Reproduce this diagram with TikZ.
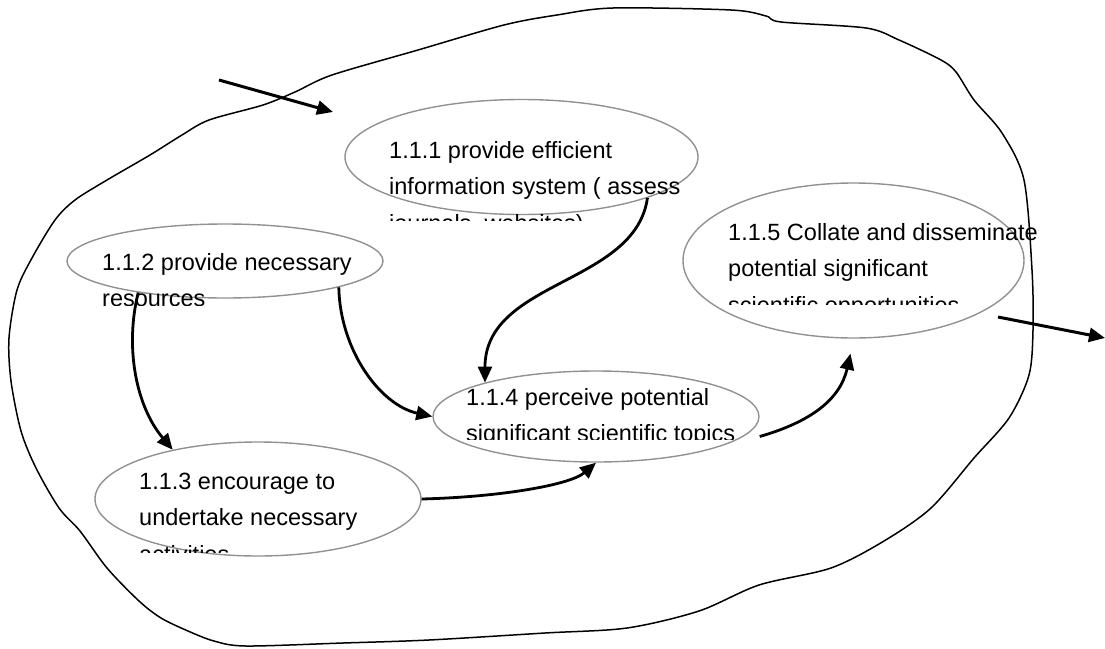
\documentclass[tikz,border=0pt]{standalone}
\usepackage{fontspec}
\setmainfont{Liberation Sans}
\usetikzlibrary{arrows.meta,shapes.geometric}

\definecolor{ovalgray}{RGB}{145,145,145}

\begin{document}
\begin{tikzpicture}[x=1pt,y=-1pt,
        oval/.style={ellipse,draw=ovalgray,line width=1.4pt,inner sep=0pt},
        txt/.style={anchor=base west,inner sep=0pt,font=\fontsize{23.5}{36.5}\selectfont},
        arr/.style={line width=2.8pt,-{Triangle[length=16pt,width=14pt]}},
        rim/.style={line width=1.5pt,line join=round}]
        \useasboundingbox (0,0) rectangle (1105,648);

        % outline round the whole process
        \draw[rim] plot[smooth cycle,tension=0.5] coordinates {
          (17,290) (32,258) (55,220) (75,200) (107,180) (150,155) (182,135)
          (209,120) (263,105) (295,92) (332,75) (418,50) (504,25) (557,15)
          (613,8) (731,10) (766,16) (781,22) (866,28) (899,40) (941,60)
          (956,72) (974,100) (1002,133) (1024,180) (1032,270) (1033,330)
          (1029,375) (1009,418) (974,458) (931,508) (884,541) (831,568)
          (759,585) (699,611) (627,628) (545,633) (429,640) (343,643)
          (246,646) (214,641) (188,631) (161,618) (139,601) (107,568)
          (80,531) (59,508) (36,468) (21,431) (11,381) (9,338)};

        \node[oval,minimum width=353pt,minimum height=115pt] at (521.5,157) (info) {};
        \node[oval,minimum width=316pt,minimum height=74pt] at (225,261) (res) {};
        \node[oval,minimum width=326pt,minimum height=114pt] at (258,499) (enc) {};
        \node[oval,minimum width=326pt,minimum height=91pt] at (596,416.5) (perc) {};
        \node[oval,minimum width=341pt,minimum height=155pt] at (853.5,260.5) (coll) {};

        % texts, cut off at the bottom as in the drawing
        \begin{scope}
          \clip (380,120) rectangle (720,220);
          \node[txt] at (389,158) (tinfo) {\parbox[t]{330pt}{1.1.1 provide efficient\\information system ( assess\\journals, websites)}};
        \end{scope}
        \begin{scope}
          \clip (95,235) rectangle (400,305);
          \node[txt] at (102,270) (tres) {\parbox[t]{290pt}{1.1.2 provide necessary\\resources}};
        \end{scope}
        \begin{scope}
          \clip (130,455) rectangle (430,552);
          \node[txt] at (139,489) (tenc) {\parbox[t]{290pt}{1.1.3 encourage to\\undertake necessary\\activities}};
        \end{scope}
        \begin{scope}
          \clip (455,375) rectangle (780,439);
          \node[txt] at (466,405) (tperc) {\parbox[t]{330pt}{1.1.4 perceive potential\\significant scientific topics}};
        \end{scope}
        \begin{scope}
          \clip (720,205) rectangle (1060,304);
          \node[txt] at (728,240) (tcoll) {\parbox[t]{330pt}{1.1.5 Collate and disseminate\\potential significant\\scientific opportunities}};
        \end{scope}

        \coordinate (in0) at (219,80);
        \coordinate (in1) at (333,112);
        \coordinate (out0) at (998,317);
        \coordinate (out1) at (1105,338);

        \draw[arr,line width=3pt] (in0) -- (in1);
        \draw[arr,line width=3pt] (out0) -- (out1);
        \draw[arr] (info.-18) .. controls (635,285) and (485,280) .. (perc.163);
        \draw[arr] (res.-160) .. controls (125,345) and (135,405) .. (enc.150);
        \draw[arr] (res.-13) .. controls (340,350) and (380,405) .. (perc.180);
        \draw[arr] (enc.0) .. controls (500,497) and (570,485) .. (perc.-90);
        \draw[arr] ([yshift=-20pt]perc.east) .. controls (810,422) and (840,400) .. ([xshift=-3pt,yshift=-15pt]coll.south);
\end{tikzpicture}
\end{document}
